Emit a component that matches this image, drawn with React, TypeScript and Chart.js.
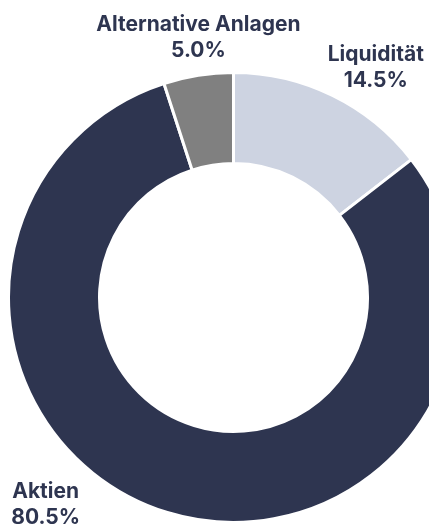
import React, { useEffect, useRef } from "react";
import { Chart, registerables } from "chart.js";

Chart.register(...registerables);

// ---- data ----
const categories = ["Liquidität", "Aktien", "Alternative Anlagen"];
const shares = [14.5, 80.5, 5.0];
const sliceColors = ["#CDD3E1", "#2E3550", "#808080"];

// ---- label layout (degrees clockwise from top, distance in outer radii) ----
const LABEL_ANGLE_DEG = [31.8, 222.2, -7.7];
const LABEL_DIST = [1.2, 1.243, 1.165];
const TEXT_COLOR = "#2E3550";
const FONT = "bold 21px Inter";
const LINE_GAP = 26;

const outerLabels = {
  id: "outerLabels",
  afterDraw(chart: any) {
    const ctx = chart.ctx as CanvasRenderingContext2D;
    const meta = chart.getDatasetMeta(0);
    ctx.save();
    ctx.font = FONT;
    ctx.fillStyle = TEXT_COLOR;
    ctx.textAlign = "center";
    ctx.textBaseline = "middle";
    meta.data.forEach((arc: any, i: number) => {
      const { x, y, outerRadius } = arc.getProps(["x", "y", "outerRadius"], true);
      const a = (LABEL_ANGLE_DEG[i] * Math.PI) / 180;
      const r = outerRadius * LABEL_DIST[i];
      const cx = x + r * Math.sin(a);
      const cy = y - r * Math.cos(a);
      ctx.fillText(categories[i], cx, cy - LINE_GAP / 2);
      ctx.fillText(shares[i].toFixed(1) + "%", cx, cy + LINE_GAP / 2);
    });
    ctx.restore();
  },
};

export default function App() {
  const ref = useRef<HTMLCanvasElement | null>(null);
  useEffect(() => {
    if (!ref.current) return;
    const chart = new Chart(ref.current, {
      type: "doughnut",
      data: {
        labels: categories,
        datasets: [
          {
            data: shares,
            backgroundColor: sliceColors,
            borderColor: "#ffffff",
            borderWidth: 3,
            hoverOffset: 0,
          },
        ],
      },
      options: {
        responsive: false,
        maintainAspectRatio: false,
        animation: false,
        cutout: 134,
        layout: { padding: { top: 71, bottom: 0, left: 0, right: 0 } },
        plugins: {
          legend: { display: false },
          tooltip: { enabled: false },
        },
        events: [],
      },
      plugins: [outerLabels],
    });
    if ((document as any).fonts && (document as any).fonts.load) {
      (document as any).fonts.load(FONT).then(() => chart.update()).catch(() => {});
    }
    return () => chart.destroy();
  }, []);

  return (
    <div
      style={{
        position: "fixed",
        left: 0,
        top: 0,
        width: 429,
        height: 524,
        overflow: "hidden",
        background: "#ffffff",
      }}
    >
      <canvas ref={ref} width={467} height={524} style={{ width: 467, height: 524, display: "block" }} />
    </div>
  );
}
